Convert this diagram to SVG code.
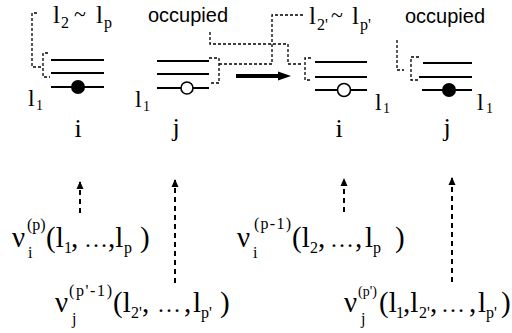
<svg xmlns="http://www.w3.org/2000/svg" width="512" height="333" viewBox="0 0 512 333">
<defs>
<style>
.lv{stroke:#000;stroke-width:2;fill:none}
.dsh{stroke:#000;stroke-width:1.3;fill:none;stroke-dasharray:3 2}
.vd{stroke:#000;stroke-width:2;fill:none;stroke-dasharray:5 4}
.t{font-family:"Liberation Serif","Times New Roman",serif;fill:#000}
.s{font-family:"Liberation Sans",Arial,sans-serif;fill:#000;font-size:20px}
.m{font-size:29px}
.tp{font-size:25px}
.sm{font-size:16px}
.lb{font-size:24px}
.ij{font-size:26px}
</style>
<marker id="ah" viewBox="0 0 8 8" refX="7" refY="4" markerWidth="8" markerHeight="8" markerUnits="userSpaceOnUse" orient="auto">
<path d="M0,0.5 L8,4 L0,7.5 Z" fill="#000"/>
</marker>
</defs>
<rect width="512" height="333" fill="#fff"/>

<g id="node-i-before">
<line class="lv" x1="51" y1="60" x2="104" y2="60"/>
<line class="lv" x1="51" y1="73" x2="104" y2="73"/>
<line class="lv" x1="51" y1="87" x2="104" y2="87"/>
<circle cx="78" cy="87" r="7" fill="#000"/>
<text class="t lb" x="28" y="106">l</text><text class="t" font-size="14" x="36" y="110">1</text>
<text class="t ij" x="78" y="137" text-anchor="middle">i</text>
</g>

<g id="node-j-before">
<line class="lv" x1="157" y1="61" x2="209" y2="61"/>
<line class="lv" x1="157" y1="74" x2="209" y2="74"/>
<line class="lv" x1="157" y1="88" x2="209" y2="88"/>
<circle cx="187" cy="88" r="6" fill="#fff" stroke="#000" stroke-width="1.6"/>
<text class="t lb" x="135" y="107">l</text><text class="t" font-size="14" x="143" y="111">1</text>
<text class="t ij" x="176" y="136" text-anchor="middle">j</text>
</g>

<g id="node-i-after">
<line class="lv" x1="315" y1="62" x2="367" y2="62"/>
<line class="lv" x1="315" y1="77" x2="367" y2="77"/>
<line class="lv" x1="315" y1="90" x2="367" y2="90"/>
<circle cx="344" cy="90" r="6.5" fill="#fff" stroke="#000" stroke-width="1.6"/>
<text class="t lb" x="375" y="110">l</text><text class="t" font-size="14" x="383" y="113">1</text>
<text class="t ij" x="339" y="137" text-anchor="middle">i</text>
</g>

<g id="node-j-after">
<line class="lv" x1="423" y1="63" x2="472" y2="63"/>
<line class="lv" x1="419" y1="77" x2="472" y2="77"/>
<line class="lv" x1="422" y1="90" x2="472" y2="90"/>
<circle cx="449" cy="90" r="7" fill="#000"/>
<text class="t lb" x="477" y="110">l</text><text class="t" font-size="14" x="486" y="113">1</text>
<text class="t ij" x="447" y="136" text-anchor="middle">j</text>
</g>

<g id="labels-top">
<text class="t tp" x="53" y="23">l</text><text class="t sm" x="61" y="28">2</text>
<text class="t" font-size="22" x="74" y="21">~</text>
<text class="t tp" x="96" y="23">l</text><text class="t sm" x="104" y="28">p</text>
<text class="s" x="148" y="22">occupied</text>
<text class="t tp" x="309" y="24">l</text><text class="t sm" x="317" y="30">2'</text>
<text class="t" font-size="22" x="331" y="22">~</text>
<text class="t tp" x="352" y="24">l</text><text class="t sm" x="360" y="30">p'</text>
<text class="s" x="405" y="23">occupied</text>
</g>

<g id="labels-bottom">
<text class="t m" x="12" y="247">ν</text>
<text class="t sm" x="27" y="230">(p)</text>
<text class="t sm" x="28" y="258">i</text>
<text class="t m" x="46" y="247">(l</text>
<text class="t sm" x="64" y="253">1</text>
<text class="t m" x="71" y="247">,</text>
<text class="t" font-size="24" x="84" y="247">…</text>
<text class="t m" x="108" y="247">,l</text>
<text class="t sm" x="124" y="253">p</text>
<text class="t m" x="140" y="247">)</text>

<text class="t m" x="55" y="312">ν</text>
<text class="t sm" x="69" y="296" textLength="43" lengthAdjust="spacing">(p'-1)</text>
<text class="t sm" x="72" y="324">j</text>
<text class="t m" x="113" y="312">(l</text>
<text class="t sm" x="131" y="318">2'</text>
<text class="t m" x="142" y="312">,</text>
<text class="t" font-size="24" x="157" y="312">…</text>
<text class="t m" x="184" y="312">,</text>
<text class="t m" x="193" y="312">l</text>
<text class="t sm" x="201" y="318">p'</text>
<text class="t m" x="220" y="312">)</text>

<text class="t m" x="237" y="247">ν</text>
<text class="t sm" x="254" y="229" textLength="37" lengthAdjust="spacing">(p-1)</text>
<text class="t sm" x="253" y="258">i</text>
<text class="t m" x="292" y="247">(l</text>
<text class="t sm" x="310" y="253">2</text>
<text class="t m" x="318" y="247">,</text>
<text class="t" font-size="24" x="330" y="247">…</text>
<text class="t m" x="355" y="247">,</text>
<text class="t m" x="365" y="247">l</text>
<text class="t sm" x="373" y="253">p</text>
<text class="t m" x="395" y="247">)</text>

<text class="t m" x="344" y="312">ν</text>
<text class="t" font-size="14" x="358" y="296">(p')</text>
<text class="t sm" x="361" y="324">j</text>
<text class="t m" x="379" y="312">(l</text>
<text class="t sm" x="396" y="318">1</text>
<text class="t m" x="403" y="312">,l</text>
<text class="t sm" x="419" y="318">2'</text>
<text class="t m" x="430" y="312">,</text>
<text class="t" font-size="24" x="441" y="312">…</text>
<text class="t m" x="469" y="312">,</text>
<text class="t m" x="478" y="312">l</text>
<text class="t sm" x="486" y="318">p'</text>
<text class="t m" x="501" y="312">)</text>
</g>

<g id="connectors">
<path class="dsh" d="M37,13 H32 V67 H42"/>
<path class="dsh" d="M48,53 H43 V77 H50"/>
<path class="dsh" d="M209,58 H219 V83 H209"/>
<path class="dsh" d="M219,64 H272 V15 H305"/>
<path class="dsh" d="M210,32 V44 H288 V64 H303"/>
<path class="dsh" d="M311,58 H305 V80 H312"/>
<path class="dsh" d="M397,40 V70 H404"/>
<path class="dsh" d="M419,57 H411 V80 H419"/>
<line x1="236" y1="76" x2="280" y2="76" stroke="#000" stroke-width="4"/>
<polygon points="278,71.5 291,76 278,80.5" fill="#000"/>
<line class="vd" x1="80" y1="213" x2="80" y2="182" marker-end="url(#ah)"/>
<line class="vd" x1="175" y1="283" x2="175" y2="180" marker-end="url(#ah)"/>
<line class="vd" x1="344" y1="212" x2="344" y2="179" marker-end="url(#ah)"/>
<line class="vd" x1="452" y1="282" x2="452" y2="178" marker-end="url(#ah)"/>
</g>
</svg>
